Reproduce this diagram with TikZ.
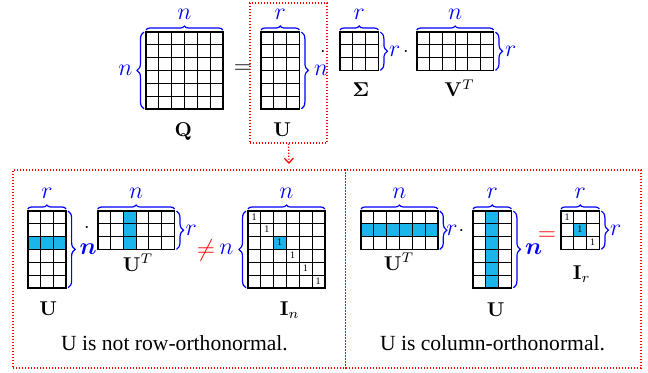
\documentclass[tikz,border=0pt]{standalone}
\usepackage{amsmath}
\usepackage{amssymb}
\usepackage{bm}
\usepackage[no-math]{fontspec}
\setmainfont{Liberation Serif}
\usepackage{tikz}
\usetikzlibrary{positioning,arrows.meta,decorations.pathreplacing}
\definecolor{cBrace}{HTML}{0000FF}
\definecolor{cHi}{HTML}{1BB5EC}
\definecolor{cRed}{HTML}{FF0000}
\tikzset{
  mat/.style={inner sep=0pt,outer sep=0pt,anchor=north west},
  gridln/.style={line width=0.5pt,step=6.4pt},
  mframe/.style={line width=0.8pt},
  hi/.style={fill=cHi},
  tbrc/.style={decorate,decoration={brace,amplitude=2pt,raise=1pt},draw=cBrace,line width=0.6pt},
  sbrc/.style={decorate,decoration={brace,amplitude=3.5pt,raise=1pt},draw=cBrace,line width=0.6pt},
  blbl/.style={text=cBrace,inner sep=0pt,font=\large},
  mlbl/.style={anchor=base,inner sep=0pt},
  one/.style={font=\tiny,inner sep=1pt,anchor=north west,xshift=0.6pt},
  captxt/.style={anchor=base,inner sep=0pt,font=\fontsize{10.8}{13}\selectfont},
  redbox/.style={draw=cRed,color=cRed,line width=0.6pt,dash pattern=on 0.6pt off 0.9pt},
  arr/.style={-{Straight Barb[length=2.5pt,width=4.5pt]},draw=cRed,line width=0.6pt,dash pattern=on 0.6pt off 0.9pt}}
\newcommand{\mgrid}[1]{%
  \draw[gridln,shift={(#1.south west)}] (0,0) grid (#1.north east);
  \draw[mframe] (#1.south west) rectangle (#1.north east);}

\begin{document}
\begin{tikzpicture}[x=0.5pt,y=0.5pt]
\useasboundingbox (0,0) rectangle (648,372);
% top row: Q = U . Sigma . V^T
\node[mat,minimum width=38.4pt,minimum height=38.4pt] (Q) at (146,340) {};
\node[mat,minimum width=19.2pt,minimum height=38.4pt] (U) at (261,340) {};
\node[mat,minimum width=19.2pt,minimum height=19.2pt] (S) at (340,340) {};
\node[mat,minimum width=38.4pt,minimum height=19.2pt] (Vt) at (416.7,340) {};
\mgrid{Q} \mgrid{U} \mgrid{S} \mgrid{Vt}
\draw[tbrc] (Q.north west) -- node[blbl,above=6.2pt] {$n$} (Q.north east);
\draw[sbrc] (Q.south west) -- node[blbl,left=6.5pt] {$n$} (Q.north west);
\draw[tbrc] (U.north west) -- node[blbl,above=6.2pt] {$r$} (U.north east);
\draw[sbrc] (U.north east) -- node[blbl,right=7pt] {$n$} (U.south east);
\draw[tbrc] (S.north west) -- node[blbl,above=6.2pt] {$r$} (S.north east);
\draw[sbrc] (S.north east) -- node[blbl,right=5pt] {$r$} (S.south east);
\draw[tbrc] (Vt.north west) -- node[blbl,above=6.2pt] {$n$} (Vt.north east);
\draw[sbrc] (Vt.north east) -- node[blbl,right=5.5pt] {$r$} (Vt.south east);
\node[font=\large] (eq) at (243,303) {$=$};
\node (dot1) at (323,320) {$\cdot$};
\node (dot2) at (406,320) {$\cdot$};
\node[mlbl] (lQ) at (183.3,236) {$\mathbf{Q}$};
\node[mlbl] (lU) at (282.3,236) {$\mathbf{U}$};
\node[mlbl] (lS) at (361,275.5) {$\mathbf{\Sigma}$};
\node[mlbl] (lVt) at (459.5,275.5) {$\mathbf{V}^T$};
\node[redbox,minimum width=38.5pt,minimum height=70pt] (ubox) at (288.5,299) {};
% bottom panel
\node[redbox,minimum width=314pt,minimum height=99pt] (panel) at (327,103) {};
\draw[redbox] ([xshift=9.25pt]panel.north) -- ([xshift=9.25pt]panel.south);
\coordinate (arrtip) at (289,208);
\draw[arr] (ubox.south) -- (arrtip);
% left: U . U^T != I_n
\node[mat,minimum width=19.2pt,minimum height=38.4pt] (Ua) at (27.7,161) {};
\node[mat,minimum width=38.4pt,minimum height=19.2pt] (Uta) at (97.7,161) {};
\node[mat,minimum width=38.4pt,minimum height=38.4pt] (In) at (248,161) {};
\fill[hi] ([yshift=-12.8pt]Ua.north west) rectangle ([yshift=-19.2pt]Ua.north east);
\fill[hi] ([xshift=12.8pt]Uta.north west) rectangle ([xshift=19.2pt]Uta.south west);
\fill[hi] ([xshift=12.8pt,yshift=-12.8pt]In.north west) rectangle ([xshift=19.2pt,yshift=-19.2pt]In.north west);
\mgrid{Ua} \mgrid{Uta} \mgrid{In}
\foreach \i in {0,...,5}
  \node[one] (one\i) at ([xshift=\i*6.4pt,yshift=-\i*6.4pt]In.north west) {1};
\draw[tbrc] (Ua.north west) -- node[blbl,above=6.2pt] {$r$} (Ua.north east);
\draw[sbrc] (Ua.north east) -- node[blbl,right=6.5pt] {$\boldsymbol{n}$} (Ua.south east);
\draw[tbrc] (Uta.north west) -- node[blbl,above=6.2pt] {$n$} (Uta.north east);
\draw[sbrc] (Uta.north east) -- node[blbl,right=5.2pt] {$r$} (Uta.south east);
\draw[tbrc] (In.north west) -- node[blbl,above=6.2pt] {$n$} (In.north east);
\draw[sbrc] (In.south west) -- node[blbl,left=7pt] {$n$} (In.north west);
\node (dot3) at (87,144) {$\cdot$};
\node[font=\large,text=cRed] (neq) at (206,122) {$\neq$};
\node[mlbl] (lUa) at (48.3,57) {$\mathbf{U}$};
\node[mlbl] (lUta) at (138,101) {$\mathbf{U}^T$};
\node[mlbl] (lIn) at (289.7,57) {$\mathbf{I}_n$};
\node[captxt] (capl) at (174.5,22) {U is not row-orthonormal.};
% right: U^T . U = I_r
\node[mat,minimum width=38.4pt,minimum height=19.2pt] (Utb) at (361,161) {};
\node[mat,minimum width=19.2pt,minimum height=38.4pt] (Ub) at (473,161) {};
\node[mat,minimum width=19.2pt,minimum height=19.2pt] (Ir) at (561,161) {};
\fill[hi] ([yshift=-6.4pt]Utb.north west) rectangle ([yshift=-12.8pt]Utb.north east);
\fill[hi] ([xshift=6.4pt]Ub.north west) rectangle ([xshift=12.8pt]Ub.south west);
\fill[hi] ([xshift=6.4pt,yshift=-6.4pt]Ir.north west) rectangle ([xshift=12.8pt,yshift=-12.8pt]Ir.north west);
\mgrid{Utb} \mgrid{Ub} \mgrid{Ir}
\foreach \i in {0,1,2}
  \node[one] (oner\i) at ([xshift=\i*6.4pt,yshift=-\i*6.4pt]Ir.north west) {1};
\draw[tbrc] (Utb.north west) -- node[blbl,above=6.2pt] {$n$} (Utb.north east);
\draw[sbrc] (Utb.north east) -- node[blbl,right=4pt] {$r$} (Utb.south east);
\draw[tbrc] (Ub.north west) -- node[blbl,above=6.2pt] {$r$} (Ub.north east);
\draw[sbrc] (Ub.north east) -- node[blbl,right=6.5pt] {$\boldsymbol{n}$} (Ub.south east);
\draw[tbrc] (Ir.north west) -- node[blbl,above=6.2pt] {$r$} (Ir.north east);
\draw[sbrc] (Ir.north east) -- node[blbl,right=5pt] {$r$} (Ir.south east);
\node (dot4) at (461.5,141) {$\cdot$};
\node[font=\large,text=cRed] (eqr) at (547,136) {$=$};
\node[mlbl] (lUtb) at (399,102) {$\mathbf{U}^T$};
\node[mlbl] (lUb) at (495.8,56) {$\mathbf{U}$};
\node[mlbl] (lIr) at (581.7,93) {$\mathbf{I}_r$};
\node[captxt] (capr) at (492.5,22) {U is column-orthonormal.};
\end{tikzpicture}
\end{document}
